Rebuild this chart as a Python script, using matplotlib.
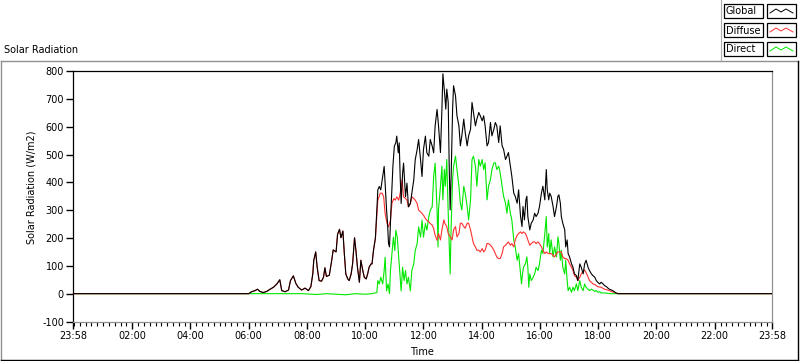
import matplotlib
matplotlib.use("Agg")
import matplotlib.pyplot as plt
from matplotlib.patches import Rectangle

# readings: (minutes since midnight, W/m2)
global_pts = [
    (-2, 0), (360, 0), (366, 7), (373, 11), (378, 16), (383, 8), (390, 4), (397, 8), (404, 16),
    (411, 23), (418, 35), (424, 50), (428, 11), (435, 7), (442, 13), (446, 47), (452, 64), (457, 37),
    (462, 23), (469, 13), (476, 20), (483, 11), (488, 25), (492, 71), (494, 120), (498, 150), (501, 95),
    (505, 47), (510, 45), (514, 59), (517, 93), (520, 62), (526, 66), (531, 120), (534, 157), (540, 150),
    (543, 213), (547, 231), (550, 201), (554, 225), (557, 143), (560, 71), (564, 53), (567, 47), (571, 71),
    (574, 107), (578, 201), (581, 152), (584, 95), (588, 41), (591, 120), (595, 83), (598, 59), (602, 53),
    (605, 71), (608, 95), (612, 107), (614, 107), (617, 155), (621, 200),
    (624, 300), (626, 373), (629, 385), (632, 373), (637, 433), (639, 457), (641, 397), (644, 300),
    (646, 252), (648, 180), (650, 168), (653, 300), (657, 457), (660, 530), (663, 542), (665, 566),
    (668, 506), (670, 542), (672, 421), (674, 324), (677, 433), (679, 469), (683, 348), (686, 397),
    (689, 312), (693, 324), (696, 360), (700, 409), (703, 481), (707, 518), (710, 554), (714, 481),
    (717, 421), (720, 518), (724, 566), (727, 506), (731, 494), (734, 554), (738, 530), (741, 506),
    (744, 602), (748, 662), (751, 603),
    (755, 507), (758, 663), (760, 790), (764, 711), (766, 663), (768, 735), (771, 687), (773, 458),
    (775, 301), (777, 422), (780, 663), (782, 747), (786, 711), (789, 639), (793, 603), (796, 531),
    (799, 567), (803, 627), (806, 579), (810, 531), (813, 567), (817, 591), (820, 687), (823, 651),
    (827, 603), (830, 627), (834, 651), (837, 639), (841, 621), (844, 639), (847, 603), (851, 531),
    (854, 543), (858, 615), (861, 567), (865, 591), (868, 615), (871, 603), (875, 543), (878, 603),
    (882, 531), (885, 519), (889, 482), (892, 494), (895, 507), (899, 458), (902, 422), (906, 361),
    (909, 350), (913, 325), (916, 373), (920, 277), (923, 241), (925, 313), (928, 265), (931, 337),
    (933, 350), (935, 277), (939, 229), (942, 253), (946, 265), (949, 289), (952, 277), (956, 289),
    (959, 313), (963, 361), (966, 386), (970, 337), (973, 446), (975, 373), (978, 337), (980, 361),
    (983, 350), (987, 313), (990, 277), (994, 313), (997, 350), (999, 355), (1002, 325), (1004, 277),
    (1007, 253), (1011, 229), (1013, 168), (1016, 193), (1018, 144), (1021, 132), (1025, 107),
    (1028, 95), (1031, 71), (1035, 65), (1038, 47), (1042, 107), (1045, 95), (1049, 71), (1052, 107),
    (1055, 120), (1059, 95), (1062, 83), (1066, 71), (1069, 65), (1073, 59), (1076, 47), (1079, 41),
    (1083, 35), (1086, 41), (1090, 35), (1093, 29), (1097, 25), (1100, 20), (1103, 16), (1107, 13),
    (1110, 11), (1114, 6), (1117, 2), (1121, 0), (1438, 0),
]

# before ~10:20 the diffuse trace sits right under the global one
diffuse_pts = [p for p in global_pts if p[0] <= 621] + [
    (626, 336), (631, 361), (635, 361), (638, 348), (641, 288), (645, 252), (648, 240), (652, 264),
    (655, 324), (659, 342), (662, 336), (665, 348), (669, 336), (672, 361), (676, 409), (679, 348),
    (683, 342), (686, 336), (689, 312), (693, 324), (696, 348), (700, 342), (703, 336), (707, 324),
    (710, 300), (714, 294), (717, 288), (720, 282), (724, 270), (727, 264), (731, 258), (734, 252),
    (738, 246), (741, 234), (744, 210), (748, 192), (751, 216), (755, 193), (758, 229),
    (762, 265), (764, 253), (768, 241), (771, 216), (775, 204), (779, 193), (782, 229), (786, 241),
    (789, 204), (793, 216), (796, 253), (799, 253), (803, 241), (806, 235), (810, 253), (813, 253),
    (817, 229), (820, 204), (823, 180), (827, 168), (830, 156), (834, 156), (837, 150), (841, 162),
    (844, 150), (847, 156), (851, 180), (854, 180), (858, 174), (861, 168), (865, 156), (868, 144),
    (871, 132), (875, 126), (878, 126), (882, 144), (885, 168), (889, 174), (892, 180), (895, 186),
    (899, 174), (902, 180), (906, 168), (909, 193), (913, 210), (916, 216), (920, 222), (923, 216),
    (926, 222), (930, 216), (933, 204), (935, 193), (939, 174), (942, 180), (946, 186), (949, 186),
    (952, 180), (956, 186), (959, 180), (963, 168), (966, 156), (970, 144), (973, 150), (977, 144),
    (980, 144), (983, 144), (987, 138), (990, 132), (994, 144), (997, 150), (1000, 150), (1004, 150),
    (1007, 132), (1011, 126), (1014, 126), (1018, 120), (1021, 107), (1025, 95), (1028, 83),
    (1031, 65), (1035, 59), (1038, 47), (1042, 59), (1045, 71), (1049, 80), (1052, 85), (1055, 75),
    (1059, 60), (1062, 47), (1066, 41), (1069, 35), (1073, 33), (1076, 29), (1079, 25), (1086, 23),
    (1093, 16), (1100, 13), (1107, 8), (1114, 4), (1121, 0), (1438, 0),
]

direct_pts = [
    (-2, 0), (360, 0), (470, 0), (500, -3), (520, 0), (560, -4), (580, 0), (600, -2), (614, 0),
    (624, 4), (626, 47), (629, 35), (632, 59), (636, 35), (639, 83), (641, 131), (644, 10), (647, 35),
    (650, 0), (652, 83), (655, 143), (658, 203), (661, 155), (663, 228), (666, 203), (669, 131),
    (672, 59), (674, 10), (677, 95), (680, 47), (683, 83), (686, 35), (689, 59), (693, 10), (696, 83),
    (700, 107), (703, 155), (707, 180), (710, 240), (714, 203), (717, 264), (720, 203), (724, 252),
    (727, 228), (731, 276), (734, 300), (738, 312), (741, 421), (744, 469), (748, 300), (750, 168),
    (751, 301), (755, 386), (758, 458), (760, 337), (763, 446), (765, 386), (768, 482), (771, 289),
    (773, 180), (775, 71), (777, 241), (780, 410), (782, 458), (786, 494), (789, 446), (793, 386),
    (796, 325), (799, 301), (803, 386), (806, 361), (810, 313), (813, 265), (817, 337), (820, 482),
    (823, 494), (827, 458), (830, 386), (834, 482), (837, 458), (841, 482), (844, 446), (847, 470),
    (851, 337), (854, 386), (858, 410), (861, 446), (865, 470), (868, 470), (871, 446), (875, 458),
    (878, 434), (882, 386), (885, 350), (889, 325), (892, 289), (895, 337), (899, 289), (902, 265),
    (906, 193), (909, 168), (913, 120), (916, 144), (920, 71), (922, 35), (924, 71), (926, 95),
    (930, 107), (933, 132), (935, 95), (937, 23), (939, 71), (942, 47), (946, 59), (949, 71), (952, 95),
    (956, 83), (959, 107), (963, 156), (966, 144), (970, 216), (973, 277), (975, 168), (978, 216),
    (980, 144), (983, 193), (987, 132), (990, 168), (994, 132), (997, 204), (999, 180), (1002, 120),
    (1004, 156), (1007, 95), (1011, 71), (1013, 120), (1016, 47), (1018, 11), (1021, 23), (1025, 5),
    (1028, 23), (1031, 11), (1035, 35), (1038, 11), (1042, 47), (1045, 23), (1049, 11), (1052, 35),
    (1055, 23), (1059, 16), (1062, 11), (1066, 16), (1069, 13), (1073, 8), (1076, 11), (1079, 5),
    (1083, 7), (1086, 2), (1090, 3), (1100, 1), (1105, 0), (1438, 0),
]

series_names = ["Global", "Diffuse", "Direct"]
series_colors = ["black", "#ff3030", "#00e800"]

x_tick_pos = [-2, 120, 240, 360, 480, 600, 720, 840, 960, 1080, 1200, 1320, 1438]
x_tick_labels = ["23:58", "02:00", "04:00", "06:00", "08:00", "10:00", "12:00",
                 "14:00", "16:00", "18:00", "20:00", "22:00", "23:58"]
y_ticks = [-100, 0, 100, 200, 300, 400, 500, 600, 700, 800]

plt.rcParams['font.family'] = ['DejaVu Sans']
plt.rcParams['font.size'] = 7
plt.rcParams['axes.unicode_minus'] = False

W, H = 800, 361
fig = plt.figure(figsize=(W / 100, H / 100), dpi=100)
fig.patch.set_facecolor("white")

# pixel-space overlay for the panel frame, captions and legend
ov = fig.add_axes([0, 0, 1, 1], zorder=-1)
ov.set_xlim(0, W)
ov.set_ylim(H, 0)
ov.axis("off")

ax = fig.add_axes([73 / W, 1 - 321.5 / H, (772 - 73) / W, (321.5 - 71) / H])

for pts, col, z in [(direct_pts, series_colors[2], 2), (diffuse_pts, series_colors[1], 3),
                    (global_pts, series_colors[0], 4)]:
    t, v = zip(*pts)
    ax.plot(t, v, color=col, lw=0.8, zorder=z)

ax.set_xlim(-2, 1438)
ax.set_ylim(-100, 800)
ax.set_xticks(x_tick_pos)
ax.set_xticklabels(x_tick_labels)
ax.set_xticks(range(0, 1440, 12), minor=True)
ax.set_yticks(y_ticks)
ax.tick_params(axis="x", which="major", length=5, width=1, pad=2, labelsize=7)
ax.tick_params(axis="x", which="minor", length=3, width=0.8)
ax.tick_params(axis="y", length=5, width=1, pad=1.5, labelsize=7)
ax.spines["left"].set_color("black")
ax.spines["top"].set_color("black")
ax.spines["right"].set_color("#909090")
ax.spines["bottom"].set_color("#909090")
for s in ax.spines.values():
    s.set_linewidth(0.9)

# outer panel frame
ov.plot([1, 798], [61, 61], color="#909090", lw=1)
ov.plot([1, 1], [61, 359.5], color="#909090", lw=1)
ov.plot([1, 798], [359.5, 359.5], color="black", lw=1)
ov.plot([798, 798], [61, 359.5], color="black", lw=1)
ov.plot([721, 721], [0, 60], color="#b0b0b0", lw=0.8)

ov.text(4, 50, "Solar Radiation", fontsize=7, va="center", ha="left")
ov.text(32, 187, "Solar Radiation (W/m2)", fontsize=7, rotation=90, va="center", ha="center")
ov.text(422, 352, "Time", fontsize=7, va="center", ha="center")

# legend boxes
row_tops = [4, 23, 42]
for name, col, top in zip(series_names, series_colors, row_tops):
    ov.add_patch(Rectangle((724, top), 39, 14, fill=False, ec="black", lw=0.9))
    ov.text(726, top + 7.5, name, fontsize=7, va="center", ha="left")
    ov.add_patch(Rectangle((767, top), 29, 14, fill=False, ec="black", lw=0.9))
    mid = top + 7
    ov.plot([770, 776, 781, 786, 793], [mid + 2, mid - 2, mid + 1, mid - 2, mid + 2],
            color=col, lw=0.7)

fig.savefig("out.png", dpi=100)
